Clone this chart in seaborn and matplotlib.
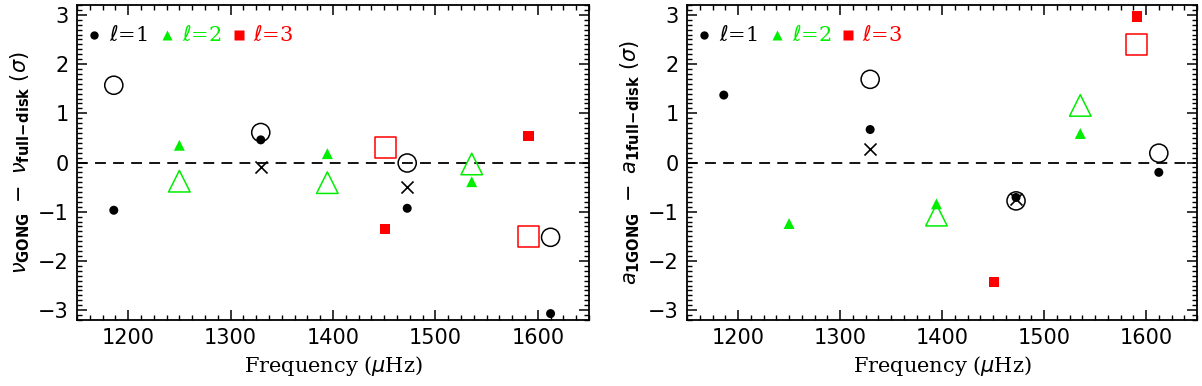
import numpy as np
import matplotlib
matplotlib.use("Agg")
import matplotlib.pyplot as plt
import seaborn as sns
from matplotlib.ticker import MultipleLocator

sns.set_style("ticks")
plt.rcParams.update({
    'font.family': ['DejaVu Sans'],
    'mathtext.fontset': 'dejavusans',
    'xtick.direction': 'in', 'ytick.direction': 'in',
    'xtick.top': True, 'ytick.right': True,
    'axes.linewidth': 1.3,
    'axes.edgecolor': 'black',
    'xtick.color': 'black', 'ytick.color': 'black',
    'text.color': 'black', 'axes.labelcolor': 'black',
})

GREEN = '#00ee00'
RED = '#ff0000'

# mode frequencies (muHz)
l1_freq = [1186, 1329.5, 1472.5, 1612.5]
l2_freq = [1250, 1394.5, 1535.5]
l3_freq = [1451, 1591]
cross_freq = [1329.5, 1472.5]

# left panel: nu_GONG - nu_full-disk (sigma)
nu_l1_filled = [-0.97, 0.46, -0.93, -3.07]
nu_l1_open = [1.57, 0.61, -0.01, -1.52]
nu_cross = [-0.10, -0.50]
nu_l2_filled = [0.35, 0.18, -0.39]
nu_l2_open = [-0.38, -0.41, -0.03]
nu_l3_filled = [-1.35, 0.54]
nu_l3_open = [0.31, -1.51]

# right panel: a1_GONG - a1_full-disk (sigma)
a1_l1_filled = [1.37, 0.67, -0.71, -0.20]
a1_l1_open = [np.nan, 1.69, -0.78, 0.19]
a1_cross = [0.27, -0.74]
a1_l2_filled = [-1.24, -0.84, 0.59]
a1_l2_open = [np.nan, -1.07, 1.16]
a1_l3_filled = [-2.43, 2.97]
a1_l3_open = [np.nan, 2.39]

PANELS = [
    dict(l1f=nu_l1_filled, l1o=nu_l1_open, cr=nu_cross,
         l2f=nu_l2_filled, l2o=nu_l2_open, l3f=nu_l3_filled, l3o=nu_l3_open,
         ylabel=r'$\nu_{\mathbf{GONG}}\ -\ \nu_{\mathbf{full\!-\!disk}}\ (\sigma)$'),
    dict(l1f=a1_l1_filled, l1o=a1_l1_open, cr=a1_cross,
         l2f=a1_l2_filled, l2o=a1_l2_open, l3f=a1_l3_filled, l3o=a1_l3_open,
         ylabel=r'$a_{\mathbf{1GONG}}\ -\ a_{\mathbf{1full\!-\!disk}}\ (\sigma)$'),
]


def draw_panel(ax, p):
    ax.axhline(0, color='black', ls=(0, (6, 4)), lw=1.3, zorder=1)
    # open symbols
    sns.scatterplot(x=l1_freq, y=p['l1o'], ax=ax, marker='o', s=170,
                    facecolor='none', edgecolor='black', linewidth=1.1, zorder=3)
    sns.scatterplot(x=l2_freq, y=p['l2o'], ax=ax, marker='^', s=240,
                    facecolor='none', edgecolor=GREEN, linewidth=1.1, zorder=3)
    sns.scatterplot(x=l3_freq, y=p['l3o'], ax=ax, marker='s', s=230,
                    facecolor='none', edgecolor=RED, linewidth=1.1, zorder=3)
    sns.scatterplot(x=cross_freq, y=p['cr'], ax=ax, marker='x', s=75,
                    color='black', linewidth=1.2, zorder=4)
    # filled symbols
    sns.scatterplot(x=l1_freq, y=p['l1f'], ax=ax, marker='o', s=42,
                    color='black', edgecolor='none', zorder=5)
    sns.scatterplot(x=l2_freq, y=p['l2f'], ax=ax, marker='^', s=62,
                    color=GREEN, edgecolor='none', zorder=5)
    sns.scatterplot(x=l3_freq, y=p['l3f'], ax=ax, marker='s', s=58,
                    color=RED, edgecolor='none', zorder=5)

    ax.set_xlim(1150, 1650)
    ax.set_ylim(-3.2, 3.2)
    ax.xaxis.set_major_locator(MultipleLocator(100))
    ax.xaxis.set_minor_locator(MultipleLocator(12.5))
    ax.yaxis.set_major_locator(MultipleLocator(1))
    ax.yaxis.set_minor_locator(MultipleLocator(0.1))
    ax.tick_params(which='major', length=7, width=1.1, labelsize=15, pad=6)
    ax.tick_params(which='minor', length=3.5, width=1.0)
    ax.yaxis.set_major_formatter(plt.FuncFormatter(
        lambda v, _: f'{int(round(v))}'.replace('-', '\u2212')))
    ax.set_xlabel(r'Frequency ($\mu$Hz)', family='DejaVu Serif', fontsize=15)
    ax.set_ylabel(p['ylabel'], fontsize=15)

    # legend-like labels
    y0 = 0.905
    for xm, xt, mk, col, lab in [(0.033, 0.063, 'o', 'black', r'$\ell$=1'),
                                 (0.176, 0.205, '^', GREEN, r'$\ell$=2'),
                                 (0.316, 0.343, 's', RED, r'$\ell$=3')]:
        ax.plot([xm], [y0], marker=mk, color=col, ms=7 if mk != 'o' else 6,
                mec='none', transform=ax.transAxes, clip_on=False)
        ax.text(xt, y0, lab, color=col, fontsize=15, family='DejaVu Serif',
                transform=ax.transAxes, va='center', ha='left')


fig = plt.figure(figsize=(12.02, 3.86), dpi=100)
ax1 = fig.add_axes([0.064, 0.171, 0.426, 0.816])
ax2 = fig.add_axes([0.5716, 0.171, 0.4243, 0.816])
for ax, p in zip([ax1, ax2], PANELS):
    draw_panel(ax, p)

fig.savefig('out.png', dpi=100)
